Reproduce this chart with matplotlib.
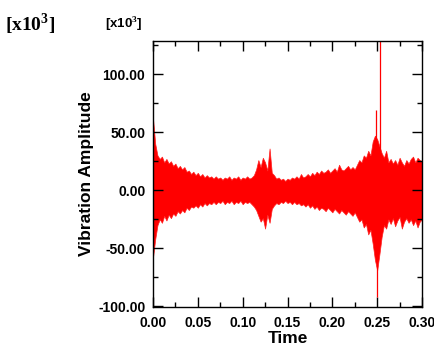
import matplotlib
matplotlib.use("Agg")
import matplotlib.pyplot as plt
from matplotlib.ticker import MultipleLocator, FormatStrFormatter
import numpy as np

# envelope of the vibration signal (units of 1e3)
time = np.arange(121) * 0.0025

upper = [62, 40, 30, 27, 29, 24, 27, 23, 25, 21, 23, 19, 21, 18, 20, 16, 17, 14, 16, 13,
         15, 12, 14, 11, 13, 11, 12, 10, 12, 10, 11, 9, 11, 10, 12, 9, 11, 10, 12, 9,
         11, 10, 12, 10, 11, 13, 18, 26, 20, 28, 24, 17, 36, 15, 13, 10, 11, 9, 10, 8,
         10, 9, 11, 10, 12, 10, 14, 11, 12, 14, 12, 15, 13, 16, 14, 17, 15, 16, 18, 15,
         17, 19, 16, 22, 18, 17, 19, 21, 18, 20, 18, 22, 26, 24, 30, 28, 34, 30, 42, 47,
         44, 38, 32, 28, 34, 24, 27, 23, 26, 22, 28, 24, 21, 26, 23, 27, 29, 24, 28, 26,
         25]

lower = [-58, -42, -30, -25, -28, -22, -26, -21, -24, -20, -22, -18, -20, -17, -19, -15, -17, -14, -15, -13,
         -15, -12, -14, -11, -13, -11, -12, -10, -12, -10, -11, -9, -12, -10, -11, -9, -12, -10, -11, -9,
         -12, -10, -11, -10, -12, -14, -17, -22, -27, -24, -33, -21, -28, -16, -13, -11, -12, -10, -11, -9,
         -11, -10, -12, -10, -12, -11, -13, -12, -14, -12, -15, -13, -16, -14, -17, -15, -16, -18, -15, -17,
         -19, -16, -18, -20, -17, -19, -21, -18, -20, -22, -19, -23, -27, -25, -32, -29, -38, -34, -46, -60,
         -69, -55, -40, -30, -33, -25, -29, -24, -31, -26, -23, -33, -27, -24, -28, -25, -30, -26, -32, -27,
         -25]

# single thin spikes around t = 0.25
spike_t = [0.2487, 0.2494, 0.2532]
spike_lo = [0, -92, 0]
spike_hi = [69, 0, 140]

yticks = [-100, -50, 0, 50, 100]
xticks = [0.00, 0.05, 0.10, 0.15, 0.20, 0.25, 0.30]


def plot_signal():
    """Draw the vibration amplitude plot"""
    plt.rcParams["font.family"] = ["Liberation Sans", "DejaVu Sans"]
    plt.rcParams["mathtext.fontset"] = "custom"
    plt.rcParams["mathtext.bf"] = "Liberation Serif:bold"
    plt.rcParams["mathtext.rm"] = "Liberation Serif:bold"

    fig = plt.figure(figsize=(4.34, 3.56), dpi=100)
    ax = fig.add_axes([0.3525, 0.1376, 0.6199, 0.7472])

    ax.fill_between(time, lower, upper, color="#ff0000", linewidth=0.5,
                    edgecolor="#ff2020")
    ax.vlines(spike_t, spike_lo, spike_hi, color="#ff0000", linewidth=0.9)

    ax.set_xlim(0, 0.30)
    ax.set_ylim(-100.5, 128.5)
    ax.set_xticks(xticks)
    ax.set_yticks(yticks)
    ax.xaxis.set_minor_locator(MultipleLocator(0.025))
    ax.yaxis.set_minor_locator(MultipleLocator(25))
    ax.xaxis.set_major_formatter(FormatStrFormatter("%.2f"))
    ax.yaxis.set_major_formatter(FormatStrFormatter("%.2f"))

    ax.tick_params(which="both", direction="in", top=True, right=True, width=1.0)
    ax.tick_params(which="major", length=7.2)
    ax.tick_params(which="minor", length=3.6)
    ax.tick_params(axis="y", pad=5.5)
    ax.tick_params(axis="x", pad=6.5)
    for lab in ax.get_xticklabels() + ax.get_yticklabels():
        lab.set_fontsize(10)
        lab.set_fontweight("bold")
    for sp in ax.spines.values():
        sp.set_linewidth(1.0)

    ax.set_xlabel("Time", fontsize=12.5, fontweight="bold", labelpad=1)
    ax.set_ylabel("Vibration Amplitude", fontsize=12.5, fontweight="bold", labelpad=3)

    fig.text(124 / 434, 1 - 25 / 356, "[x10$^3$]", fontsize=9.5, fontweight="bold",
             ha="center", va="center")
    fig.text(5 / 434, 1 - 24 / 356, r"[x10$^\mathbf{3}$]", fontsize=14, fontweight="bold",
             family="Liberation Serif", ha="left", va="center")

    fig.savefig("out.png", dpi=100)
    plt.close(fig)


if __name__ == "__main__":
    plot_signal()
